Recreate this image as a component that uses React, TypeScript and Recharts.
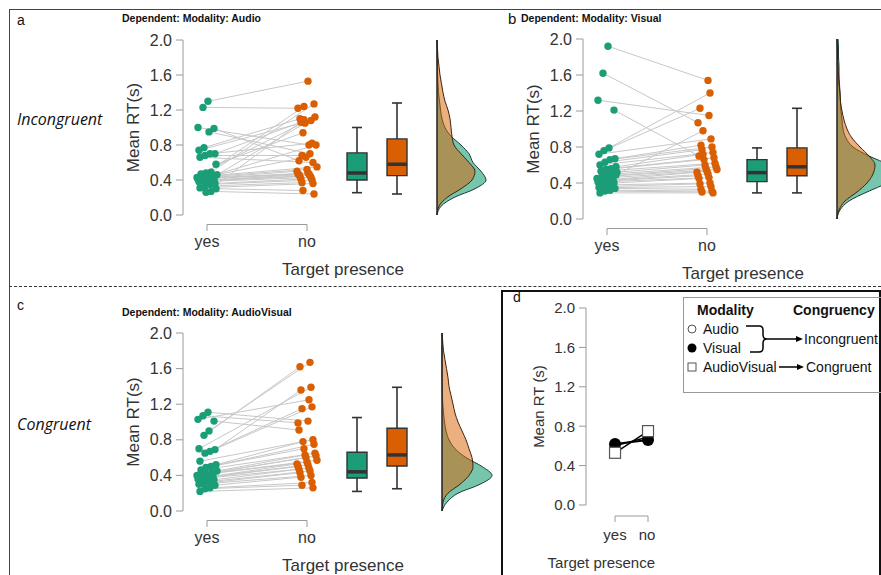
import React from 'react';
import {
  ComposedChart,
  LineChart,
  Line,
  Scatter,
  Area,
  XAxis,
  YAxis,
  ReferenceLine,
  ReferenceArea,
  ErrorBar,
} from 'recharts';

const GREEN = '#1b9e77';
const ORANGE = '#d95f02';
const INK = '#333';
const AXIS = '#9a9a9a';

const TP_TICKS = ['yes', 'no'];
const RT_TICKS = [0, 0.4, 0.8, 1.2, 1.6, 2.0];

// a: Modality Audio (paired per subject)
const audioYes = [1.30, 1.23, 1.00, 0.99, 0.95, 0.77, 0.74, 0.70, 0.70, 0.68, 0.66, 0.58, 0.49, 0.48, 0.47, 0.46, 0.45, 0.44, 0.44, 0.43, 0.43, 0.42, 0.42, 0.41, 0.40, 0.40, 0.39, 0.38, 0.36, 0.35, 0.33, 0.31, 0.30, 0.27, 0.26];
const audioNo = [1.53, 1.22, 0.80, 0.62, 0.70, 1.10, 1.08, 1.06, 0.82, 0.68, 0.60, 0.94, 1.27, 1.24, 1.12, 1.05, 0.80, 0.66, 0.55, 0.52, 0.50, 0.48, 0.47, 0.47, 0.46, 0.45, 0.44, 0.43, 0.41, 0.40, 0.37, 0.36, 0.28, 0.24, 1.09];

// b: Modality Visual
const visualYes = [1.92, 1.62, 1.32, 1.21, 0.79, 0.76, 0.72, 0.67, 0.66, 0.63, 0.60, 0.58, 0.56, 0.55, 0.53, 0.52, 0.50, 0.48, 0.47, 0.45, 0.44, 0.43, 0.42, 0.41, 0.40, 0.38, 0.36, 0.35, 0.34, 0.32, 0.31, 0.29, 0.49];
const visualNo = [1.54, 1.07, 1.15, 0.70, 1.40, 1.23, 0.89, 0.82, 0.80, 0.77, 0.74, 0.72, 0.68, 0.66, 0.62, 0.60, 0.58, 0.56, 0.55, 0.53, 0.52, 0.50, 0.48, 0.46, 0.45, 0.40, 0.39, 0.36, 0.33, 0.31, 0.30, 0.29, 0.98];

// c: Modality AudioVisual
const avYes = [1.11, 1.07, 1.03, 1.01, 0.90, 0.85, 0.70, 0.69, 0.67, 0.65, 0.56, 0.52, 0.50, 0.49, 0.46, 0.45, 0.43, 0.42, 0.41, 0.40, 0.39, 0.38, 0.37, 0.36, 0.35, 0.33, 0.31, 0.30, 0.29, 0.26, 0.25, 0.22];
const avNo = [1.01, 0.99, 1.25, 0.91, 1.67, 1.62, 1.39, 1.36, 1.17, 1.15, 0.80, 0.78, 0.75, 0.70, 0.65, 0.63, 0.62, 0.60, 0.57, 0.55, 0.53, 0.52, 0.50, 0.48, 0.47, 0.45, 0.43, 0.40, 0.38, 0.32, 0.29, 0.26];

// boxplots: min, q1, median, q3, max
const audioBoxYes = [0.255, 0.40, 0.48, 0.71, 1.0];
const audioBoxNo = [0.24, 0.45, 0.58, 0.87, 1.28];
const visualBoxYes = [0.29, 0.415, 0.515, 0.66, 0.79];
const visualBoxNo = [0.29, 0.48, 0.58, 0.79, 1.23];
const avBoxYes = [0.22, 0.37, 0.44, 0.66, 1.05];
const avBoxNo = [0.25, 0.505, 0.63, 0.93, 1.39];

// half-violin densities (arbitrary units) on an RT grid
const DENS_RT = [0, 0.1, 0.2, 0.3, 0.4, 0.5, 0.6, 0.7, 0.8, 0.9, 1.0, 1.1, 1.2, 1.3, 1.4, 1.5, 1.6, 1.7, 1.8, 1.9, 2.0];
const audioDensYes = [0, 4, 17, 38, 49, 44, 36, 32, 24, 14, 8, 5, 3.5, 2.5, 1.5, 1, 0.6, 0.3, 0.2, 0.1, 0];
const audioDensNo = [0, 2, 10, 24, 35, 38, 32, 24, 17, 15, 14, 13, 11, 8, 6, 4.5, 3, 2, 1, 0.5, 0];
const visualDensYes = [0, 3, 12, 30, 50, 62, 52, 32, 16, 9, 6, 5, 4, 3.5, 3, 2.5, 2, 2, 1.5, 1.5, 1];
const visualDensNo = [0, 2, 8, 20, 30, 36, 38, 32, 23, 15, 10, 7, 5, 3.5, 3, 2, 1.5, 1, 0.6, 0.3, 0];
const avDensYes = [0, 5, 16, 38, 50, 40, 24, 13, 7, 4, 2.5, 1.5, 0.8, 0.4, 0.2, 0.1, 0, 0, 0, 0, 0];
const avDensNo = [0, 1, 6, 18, 27, 31, 30, 27, 24, 20, 16, 13, 11, 9, 7, 6, 4.5, 3, 1.5, 0.7, 0.2];

// d: condition means
const meanAudio = [0.60, 0.69];
const meanVisual = [0.62, 0.66];
const meanAV = [0.53, 0.75];
const seAudio = [0.03, 0.03];
const seVisual = [0.03, 0.03];
const seAV = [0.05, 0.03];

const X_MIN = 0.76;
const X_MAX = 3.96;
const PX_X = 100;
const Y_W = 62;
const MT = 12;
const XH = 67;

const jit = (i: number, k: number) => ((i * (k ? 53 : 37) + 11) % 21 - 10) / 100;

const Dot = (p: any) => <circle cx={p.cx} cy={p.cy} r={3.7} fill={p.fill} />;

function boxElems(key: string, xc: number, b: number[], color: string) {
  const [mn, q1, md, q3, mx] = b;
  const hw = 0.1;
  const cw = 0.05;
  return [
    <ReferenceLine key={key + 'w1'} segment={[{ x: xc, y: q3 }, { x: xc, y: mx }]} stroke={INK} strokeWidth={1.6} />,
    <ReferenceLine key={key + 'w2'} segment={[{ x: xc, y: q1 }, { x: xc, y: mn }]} stroke={INK} strokeWidth={1.6} />,
    <ReferenceLine key={key + 'c1'} segment={[{ x: xc - cw, y: mx }, { x: xc + cw, y: mx }]} stroke={INK} strokeWidth={1.6} />,
    <ReferenceLine key={key + 'c2'} segment={[{ x: xc - cw, y: mn }, { x: xc + cw, y: mn }]} stroke={INK} strokeWidth={1.6} />,
    <ReferenceArea key={key + 'b'} x1={xc - hw} x2={xc + hw} y1={q1} y2={q3} fill={color} fillOpacity={1} stroke={INK} strokeWidth={1.4} />,
    <ReferenceLine key={key + 'm'} segment={[{ x: xc - hw, y: md }, { x: xc + hw, y: md }]} stroke={INK} strokeWidth={3.5} />,
  ];
}

function Raincloud({ axisX, topY, plotH, yes, no, boxYes, boxNo }: any) {
  const w = Y_W + (X_MAX - X_MIN) * PX_X;
  const h = MT + plotH + XH;
  const pxY = plotH / 2;
  const yesPts = yes.map((v: number, i: number) => ({ x: 1 + jit(i, 0), y: v }));
  const noPts = no.map((v: number, i: number) => ({ x: 2 + jit(i, 1), y: v }));
  const b1 = -9.5 / pxY;
  const b2 = -16 / pxY;
  return (
    <div style={{ position: 'absolute', left: axisX - Y_W, top: topY - MT }}>
      <ComposedChart width={w} height={h} margin={{ top: MT, right: 0, bottom: 0, left: 0 }}>
        <XAxis
          type="number"
          dataKey="x"
          domain={[X_MIN, X_MAX]}
          ticks={[1, 2]}
          tickFormatter={(v: number) => TP_TICKS[v - 1]}
          axisLine={false}
          tickLine={false}
          tickSize={18}
          tickMargin={3}
          height={XH}
          tick={{ fontSize: 16, fill: INK }}
          label={{ value: 'Target presence', position: 'insideBottom', offset: 7, fill: INK, fontSize: 17 }}
        />
        <YAxis
          type="number"
          dataKey="y"
          domain={[0, 2]}
          ticks={RT_TICKS}
          tickFormatter={(v: number) => v.toFixed(1)}
          width={Y_W}
          axisLine={{ stroke: AXIS }}
          tickLine={{ stroke: AXIS }}
          tickSize={7}
          tickMargin={4}
          tick={{ fontSize: 16, fill: INK }}
          label={{ value: 'Mean RT(s)', angle: -90, position: 'insideLeft', offset: 12, fill: INK, fontSize: 17, style: { textAnchor: 'middle' } }}
        />
        {yesPts.map((p: any, i: number) => (
          <Line
            key={'l' + i}
            data={[p, noPts[i]]}
            dataKey="y"
            stroke="#c8c8c8"
            strokeWidth={1}
            dot={false}
            activeDot={false}
            isAnimationActive={false}
          />
        ))}
        <Scatter data={yesPts} fill={GREEN} shape={Dot} isAnimationActive={false} />
        <Scatter data={noPts} fill={ORANGE} shape={Dot} isAnimationActive={false} />
        {boxElems('y', 2.5, boxYes, GREEN)}
        {boxElems('n', 2.9, boxNo, ORANGE)}
        <ReferenceLine segment={[{ x: 1, y: b1 }, { x: 2, y: b1 }]} stroke={AXIS} ifOverflow="visible" />
        <ReferenceLine segment={[{ x: 1, y: b1 }, { x: 1, y: b2 }]} stroke={AXIS} ifOverflow="visible" />
        <ReferenceLine segment={[{ x: 2, y: b1 }, { x: 2, y: b2 }]} stroke={AXIS} ifOverflow="visible" />
      </ComposedChart>
    </div>
  );
}

function Violin({ baseX, topY, plotH, densYes, densNo }: any) {
  const data = DENS_RT.map((v, i) => ({ v, yes: densYes[i], no: densNo[i] }));
  return (
    <div style={{ position: 'absolute', left: baseX - 2, top: topY }}>
      <ComposedChart layout="vertical" width={70} height={plotH} data={data} margin={{ top: 0, right: 0, bottom: 0, left: 0 }}>
        <XAxis type="number" domain={[-2, 68]} hide />
        <YAxis type="number" dataKey="v" domain={[0, 2]} reversed hide />
        <Area type="monotone" dataKey="yes" stroke="#1d3b30" strokeWidth={1} fill={GREEN} fillOpacity={0.6} isAnimationActive={false} />
        <Area type="monotone" dataKey="no" stroke="#3b2412" strokeWidth={1} fill={ORANGE} fillOpacity={0.5} isAnimationActive={false} />
        <ReferenceLine x={0} stroke="#222" strokeWidth={1.5} />
      </ComposedChart>
    </div>
  );
}

const HollowCircle = (p: any) => <circle cx={p.cx} cy={p.cy} r={5} fill="#fff" stroke="#555" strokeWidth={1.2} />;
const FilledCircle = (p: any) => <circle cx={p.cx} cy={p.cy} r={6} fill="#000" />;
const HollowSquare = (p: any) => <rect x={p.cx - 5.5} y={p.cy - 5.5} width={11} height={11} fill="#fff" stroke="#555" strokeWidth={1.2} />;

function MeansPanel() {
  const data = TP_TICKS.map((c, i) => ({
    x: i + 1,
    audio: meanAudio[i],
    visual: meanVisual[i],
    av: meanAV[i],
    audioErr: seAudio[i],
    visualErr: seVisual[i],
    avErr: seAV[i],
  }));
  const axisX = 586;
  const topY = 308;
  const plotH = 197;
  const yw = 58;
  const xh = 66;
  const xmin = 0.12;
  const xmax = 2.2;
  const pxY = plotH / 2;
  const b1 = -11 / pxY;
  const b2 = -17 / pxY;
  return (
    <div style={{ position: 'absolute', left: axisX - yw, top: topY - MT }}>
      <LineChart width={yw + (xmax - xmin) * 33} height={MT + plotH + xh} data={data} margin={{ top: MT, right: 0, bottom: 0, left: 0 }}>
        <XAxis
          type="number"
          dataKey="x"
          domain={[xmin, xmax]}
          ticks={[1, 2]}
          tickFormatter={(v: number) => TP_TICKS[v - 1]}
          axisLine={false}
          tickLine={false}
          tickSize={21}
          tickMargin={3}
          height={xh}
          tick={{ fontSize: 15, fill: INK }}
          label={{ value: 'Target presence', position: 'insideBottom', offset: 3, dx: -19, fill: INK, fontSize: 15 }}
        />
        <YAxis
          type="number"
          domain={[0, 2]}
          ticks={RT_TICKS}
          tickFormatter={(v: number) => v.toFixed(1)}
          width={yw}
          axisLine={{ stroke: AXIS }}
          tickLine={{ stroke: AXIS }}
          tickSize={7}
          tickMargin={4}
          tick={{ fontSize: 15, fill: INK }}
          label={{ value: 'Mean RT (s)', angle: -90, position: 'insideLeft', offset: 11, fill: INK, fontSize: 15, style: { textAnchor: 'middle' } }}
        />
        <Line dataKey="audio" stroke="#000" strokeWidth={1.5} dot={HollowCircle} activeDot={false} isAnimationActive={false}>
          <ErrorBar dataKey="audioErr" width={0} stroke="#000" direction="y" />
        </Line>
        <Line dataKey="visual" stroke="#000" strokeWidth={2} dot={FilledCircle} activeDot={false} isAnimationActive={false}>
          <ErrorBar dataKey="visualErr" width={0} stroke="#000" direction="y" />
        </Line>
        <Line dataKey="av" stroke="#000" strokeWidth={1.5} dot={HollowSquare} activeDot={false} isAnimationActive={false}>
          <ErrorBar dataKey="avErr" width={0} stroke="#000" direction="y" />
        </Line>
        <ReferenceLine segment={[{ x: 1, y: b1 }, { x: 2, y: b1 }]} stroke={AXIS} ifOverflow="visible" />
        <ReferenceLine segment={[{ x: 1, y: b1 }, { x: 1, y: b2 }]} stroke={AXIS} ifOverflow="visible" />
        <ReferenceLine segment={[{ x: 2, y: b1 }, { x: 2, y: b2 }]} stroke={AXIS} ifOverflow="visible" />
      </LineChart>
    </div>
  );
}

function Txt({ x, y, size, children, style }: any) {
  return (
    <div style={{ position: 'absolute', left: x, top: y - size * 0.6, fontSize: size, lineHeight: `${size * 1.2}px`, whiteSpace: 'nowrap', color: '#111', ...style }}>
      {children}
    </div>
  );
}

function Legend() {
  return (
    <>
      <div style={{ position: 'absolute', left: 683, top: 297, width: 240, height: 96, border: '1px solid #999', boxSizing: 'border-box' }} />
      <Txt x={697} y={310} size={14} style={{ fontWeight: 'bold' }}>Modality</Txt>
      <Txt x={793} y={310} size={14} style={{ fontWeight: 'bold' }}>Congruency</Txt>
      <Txt x={703} y={329} size={14}>Audio</Txt>
      <Txt x={703} y={348} size={14}>Visual</Txt>
      <Txt x={703} y={367} size={14}>AudioVisual</Txt>
      <Txt x={804} y={339} size={14}>Incongruent</Txt>
      <Txt x={806} y={367} size={14}>Congruent</Txt>
      <svg style={{ position: 'absolute', left: 683, top: 297 }} width={198} height={96}>
        <circle cx={9} cy={32} r={4} fill="#fff" stroke="#555" strokeWidth={1} />
        <circle cx={9} cy={51} r={4.5} fill="#000" />
        <rect x={5} y={66} width={8} height={8} fill="#fff" stroke="#555" strokeWidth={1} />
        <path d="M63 29 L76 29 Q80 29 80 33 L80 38 Q80 42 84 42 Q80 42 80 46 L80 51 Q80 55 76 55 L67 55" fill="none" stroke="#000" strokeWidth={1.5} />
        <line x1={84} y1={42} x2={114} y2={42} stroke="#000" strokeWidth={1.5} />
        <path d="M120 42 L113 39 L113 45 Z" fill="#000" />
        <line x1={96} y1={70} x2={115} y2={70} stroke="#000" strokeWidth={1.5} />
        <path d="M121 70 L114 67 L114 73 Z" fill="#000" />
      </svg>
    </>
  );
}

export default function App() {
  return (
    <div
      style={{
        position: 'absolute',
        left: 0,
        top: 0,
        width: 881,
        height: 575,
        overflow: 'hidden',
        background: '#fff',
        fontFamily: '"Liberation Sans", Arial, sans-serif',
      }}
    >
      <div style={{ position: 'absolute', left: 9, top: 9, width: 872, height: 1, background: '#444' }} />
      <div style={{ position: 'absolute', left: 9, top: 9, width: 1, height: 566, background: '#444' }} />
      <div style={{ position: 'absolute', left: 9, top: 286, width: 872, height: 0, borderTop: '1px dashed #333' }} />
      <div style={{ position: 'absolute', left: 501, top: 290, width: 380, height: 290, border: '2px solid #111', boxSizing: 'border-box' }} />

      <Txt x={17} y={20} size={14}>a</Txt>
      <Txt x={122} y={18} size={10.5} style={{ fontWeight: 'bold' }}>Dependent: Modality: Audio</Txt>
      <Txt x={17} y={120} size={16} style={{ fontFamily: '"Open Sans", sans-serif', fontStyle: 'italic' }}>Incongruent</Txt>
      <Txt x={508} y={19} size={15}>b</Txt>
      <Txt x={521} y={18} size={10.5} style={{ fontWeight: 'bold' }}>Dependent: Modality: Visual</Txt>
      <Txt x={17} y={305} size={14}>c</Txt>
      <Txt x={122} y={312} size={10.5} style={{ fontWeight: 'bold' }}>Dependent: Modality: AudioVisual</Txt>
      <Txt x={17} y={425} size={16} style={{ fontFamily: '"Open Sans", sans-serif', fontStyle: 'italic' }}>Congruent</Txt>
      <Txt x={513} y={297} size={14}>d</Txt>

      <Raincloud axisX={183} topY={40} plotH={175} yes={audioYes} no={audioNo} boxYes={audioBoxYes} boxNo={audioBoxNo} />
      <Violin baseX={437} topY={40} plotH={175} densYes={audioDensYes} densNo={audioDensNo} />

      <Raincloud axisX={583} topY={39} plotH={180} yes={visualYes} no={visualNo} boxYes={visualBoxYes} boxNo={visualBoxNo} />
      <Violin baseX={837} topY={39} plotH={180} densYes={visualDensYes} densNo={visualDensNo} />

      <Raincloud axisX={183} topY={333} plotH={178} yes={avYes} no={avNo} boxYes={avBoxYes} boxNo={avBoxNo} />
      <Violin baseX={442} topY={333} plotH={178} densYes={avDensYes} densNo={avDensNo} />

      <MeansPanel />
      <Legend />
    </div>
  );
}
